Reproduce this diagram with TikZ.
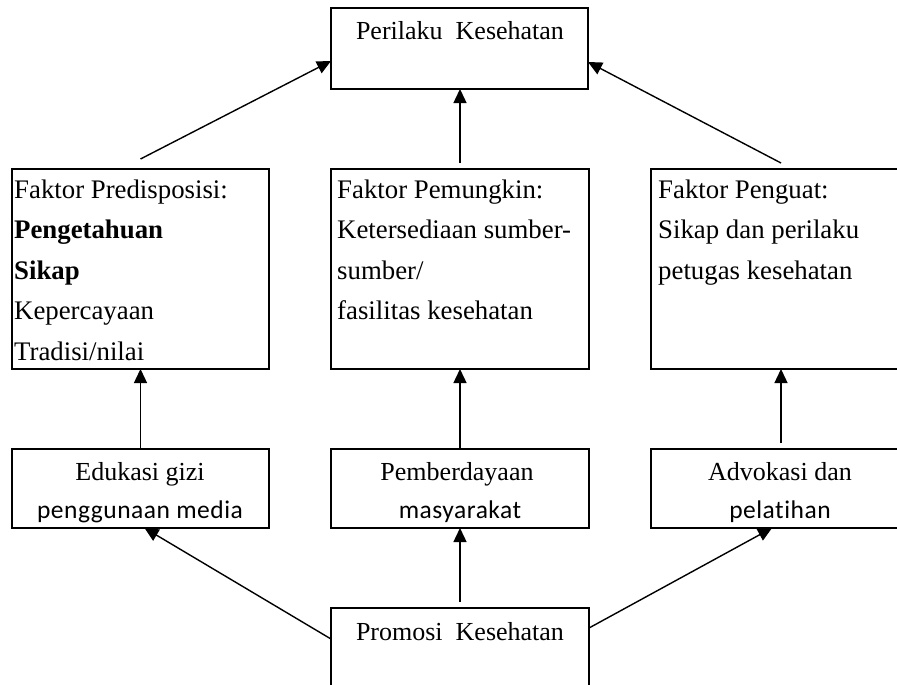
\documentclass[tikz,border=0pt]{standalone}
\usepackage{fontspec}
\setmainfont{Liberation Serif}
\newfontfamily\calib[Ligatures={NoCommon},LetterSpace=2]{Carlito}
\usetikzlibrary{arrows.meta}
\begin{document}
\begin{tikzpicture}[x=1pt,y=-1pt,
  box/.style={draw,line width=2.3pt,inner sep=0pt,outer sep=0pt,anchor=north west},
  txt/.style={inner sep=0pt,anchor=base west,font=\fontsize{26.8}{31}\selectfont},
  ctxt/.style={inner sep=0pt,anchor=base,font=\fontsize{26}{31}\selectfont},
  stxt/.style={inner sep=0pt,anchor=base,font=\calib\fontsize{25.5}{31}\selectfont},
  arr/.style={line width=1.4pt,-{Triangle[length=14pt,width=13pt]}}]
\useasboundingbox (0,0) rectangle (897,685);
\clip (0,0) rectangle (897,685);
% boxes
\node[box,minimum width=257pt,minimum height=81pt] (top) at (331,8) {};
\node[box,minimum width=257pt,minimum height=200pt] (pl) at (12,169) {};
\node[box,minimum width=258pt,minimum height=200pt] (pc) at (331,169) {};
\node[box,minimum width=260pt,minimum height=200pt] (pr) at (651,169) {};
\node[box,minimum width=257pt,minimum height=79pt] (bl) at (12,449) {};
\node[box,minimum width=258pt,minimum height=79pt] (bc) at (331,449) {};
\node[box,minimum width=260pt,minimum height=79pt] (br) at (651,449) {};
\node[box,minimum width=258pt,minimum height=100pt] (pro) at (331,608) {};
% texts
\node[ctxt] (toptxt) at (460,40) {Perilaku\ \ Kesehatan};
\node[txt] (pl1) at (14,198) {Faktor Predisposisi:};
\node[txt] (pl2) at (14,238.5) {\textbf{Pengetahuan}};
\node[txt] (pl3) at (14,279) {\textbf{Sikap}};
\node[txt] (pl4) at (14,319.5) {Kepercayaan};
\node[txt] (pl5) at (14,360) {Tradisi/nilai};
\node[txt] (pc1) at (337,198) {Faktor Pemungkin:};
\node[txt] (pc2) at (337,238.5) {Ketersediaan sumber-};
\node[txt] (pc3) at (337,279) {sumber/};
\node[txt] (pc4) at (337,319.5) {fasilitas kesehatan};
\node[txt] (pr1) at (658,198) {Faktor Penguat:};
\node[txt] (pr2) at (658,238.5) {Sikap dan perilaku};
\node[txt] (pr3) at (658,279) {petugas kesehatan};
\node[ctxt] (bl1) at (140,480) {Edukasi gizi};
\node[stxt] (bl2) at (140,518) {penggunaan media};
\node[ctxt] (bc1) at (457,480) {Pemberdayaan};
\node[stxt] (bc2) at (460,518) {masyarakat};
\node[ctxt] (br1) at (780,480) {Advokasi dan};
\node[stxt] (br2) at (780,518) {pelatihan};
\node[ctxt] (protxt) at (460,640) {Promosi\ \ Kesehatan};
% arrows
\draw[arr] ([yshift=10pt]pl.north) -- ([yshift=-12.5pt]top.west);
\draw[arr] ([yshift=6pt]pc.north) -- (pc.north |- top.south);
\draw[arr] ([yshift=6pt]pr.north) -- ([yshift=-13.5pt]top.east);
\draw[arr] (bl.north) -- (bl.north |- pl.south);
\draw[arr] (bc.north) -- (bc.north |- pc.south);
\draw[arr] ([yshift=6pt]br.north) -- (br.north |- pr.south);
\draw[arr] ([yshift=19pt]pro.west) -- ([xshift=4pt]bl.south);
\draw[arr] ([yshift=6pt]pro.north) -- (pro.north |- bc.south);
\draw[arr] ([yshift=30pt]pro.east) -- ([xshift=-9pt]br.south);
\end{tikzpicture}
\end{document}
